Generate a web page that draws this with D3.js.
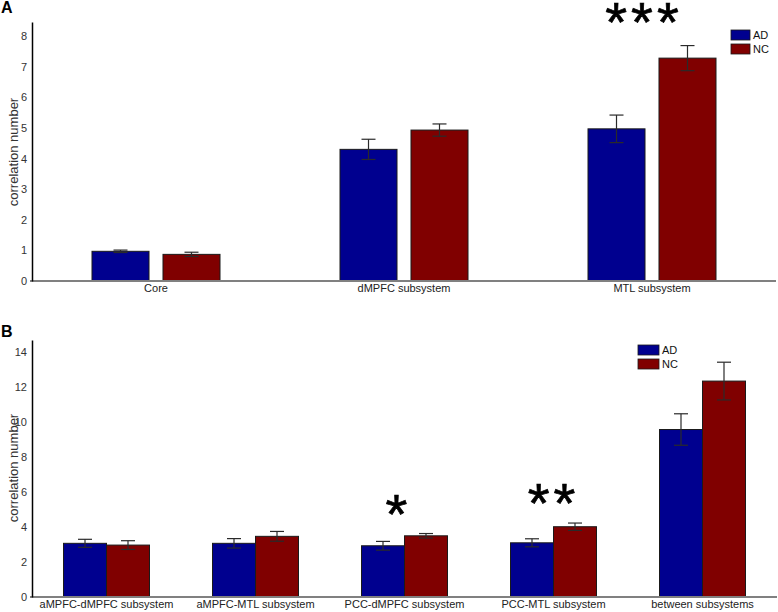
<!DOCTYPE html>
<html>
<head>
<meta charset="utf-8">
<script src="https://cdn.jsdelivr.net/npm/d3@7"></script>
<style>
  body { margin: 0; background: #fff; }
  text { font-family: Arial, "Liberation Sans", sans-serif; }
</style>
</head>
<body>
<svg id="chart"></svg>
<script>
const groups = ["AD", "NC"];

const catsA = ["Core", "dMPFC subsystem", "MTL subsystem"];
const adA = [0.97, 4.30, 4.97];
const ncA = [0.87, 4.93, 7.28];
const adErrA = [0.04, 0.33, 0.45];
const ncErrA = [0.07, 0.20, 0.41];
const ticksA = [0, 1, 2, 3, 4, 5, 6, 7, 8];
const starsA = [{ cat: "MTL subsystem", text: "***", at: 7.84 }];

const catsB = ["aMPFC-dMPFC subsystem", "aMPFC-MTL subsystem", "PCC-dMPFC subsystem", "PCC-MTL subsystem", "between subsystems"];
const adB = [3.07, 3.07, 2.93, 3.10, 9.58];
const ncB = [2.97, 3.47, 3.50, 4.02, 12.35];
const adErrB = [0.23, 0.27, 0.25, 0.23, 0.90];
const ncErrB = [0.25, 0.28, 0.13, 0.21, 1.08];
const ticksB = [0, 2, 4, 6, 8, 10, 12, 14];
const starsB = [
  { cat: "PCC-dMPFC subsystem", text: "*", at: 3.66 },
  { cat: "PCC-MTL subsystem", text: "**", at: 4.29 }
];

const colors = { AD: "#00008f", NC: "#800000" };

const width = 778;
const height = 612;

const svg = d3.select("#chart")
  .attr("width", width)
  .attr("height", height);

function panel(opt) {
  const g = svg.append("g");

  const x = d3.scaleBand()
    .domain(opt.cats)
    .range([32, opt.right])
    .padding(0);

  const inner = d3.scaleBand()
    .domain(groups)
    .range([-opt.half, opt.half])
    .paddingInner(opt.gap);

  const y = d3.scaleLinear()
    .domain([0, opt.max])
    .range([opt.base, opt.top]);

  const rows = [];
  opt.cats.forEach((c, i) => {
    rows.push({ cat: c, grp: "AD", v: opt.ad[i], e: opt.adErr[i] });
    rows.push({ cat: c, grp: "NC", v: opt.nc[i], e: opt.ncErr[i] });
  });

  g.selectAll("rect.bar")
    .data(rows)
    .enter()
    .append("rect")
    .attr("class", "bar")
    .attr("x", d => x(d.cat) + x.bandwidth() / 2 + inner(d.grp))
    .attr("y", d => y(d.v))
    .attr("width", inner.bandwidth())
    .attr("height", d => y(0) - y(d.v))
    .attr("fill", d => colors[d.grp])
    .attr("stroke", "#1a1a1a")
    .attr("stroke-width", 1);

  const cx = d => x(d.cat) + x.bandwidth() / 2 + inner(d.grp) + inner.bandwidth() / 2;
  const err = g.selectAll("g.err")
    .data(rows)
    .enter()
    .append("g")
    .attr("stroke", "#2a2a2a")
    .attr("stroke-width", 1.2);
  err.append("line")
    .attr("x1", cx).attr("x2", cx)
    .attr("y1", d => y(d.v + d.e)).attr("y2", d => y(d.v - d.e));
  err.append("line")
    .attr("x1", d => cx(d) - 7).attr("x2", d => cx(d) + 7)
    .attr("y1", d => y(d.v + d.e)).attr("y2", d => y(d.v + d.e));
  err.append("line")
    .attr("x1", d => cx(d) - 7).attr("x2", d => cx(d) + 7)
    .attr("y1", d => y(d.v - d.e)).attr("y2", d => y(d.v - d.e));

  // gray baseline
  g.append("line")
    .attr("x1", 30).attr("x2", opt.right)
    .attr("y1", y(0)).attr("y2", y(0))
    .attr("stroke", "#808080")
    .attr("stroke-width", 2);

  const xAxis = g.append("g")
    .attr("transform", `translate(0,${y(0)})`)
    .call(d3.axisBottom(x).tickSize(0).tickPadding(3));
  xAxis.select(".domain").remove();
  xAxis.selectAll("text")
    .attr("font-size", 11)
    .attr("fill", "#222")
    .attr("font-family", "Arial, 'Liberation Sans', sans-serif");

  const yAxis = g.append("g")
    .attr("transform", "translate(32,0)")
    .call(d3.axisLeft(y).tickValues(opt.ticks).tickSize(0).tickPadding(5).tickSizeOuter(0));
  yAxis.select(".domain")
    .attr("stroke", "#000")
    .attr("stroke-width", 1.5);
  yAxis.selectAll("text")
    .attr("font-size", 11)
    .attr("fill", "#333")
    .attr("font-family", "Arial, 'Liberation Sans', sans-serif");

  g.append("text")
    .attr("transform", `translate(18,${opt.labelY}) rotate(-90)`)
    .attr("text-anchor", "middle")
    .attr("font-size", 13)
    .attr("fill", "#333")
    .text("correlation number");

  g.append("text")
    .attr("x", 1)
    .attr("y", opt.letterY)
    .attr("font-size", 16)
    .attr("font-weight", "bold")
    .text(opt.letter);

  g.selectAll("text.star")
    .data(opt.stars)
    .enter()
    .append("text")
    .attr("class", "star")
    .attr("x", (d, i) => x(d.cat) + x.bandwidth() / 2 + opt.starDx[i] + 2)
    .attr("y", d => y(d.at))
    .attr("text-anchor", "middle")
    .attr("font-size", 56)
    .attr("letter-spacing", 4)
    .attr("stroke", "#000")
    .attr("stroke-width", 0.7)
    .text(d => d.text);

  const leg = g.selectAll("g.leg")
    .data(groups)
    .enter()
    .append("g")
    .attr("transform", (d, i) => `translate(${opt.legX},${opt.legY + i * 14})`);
  leg.append("rect")
    .attr("width", opt.legW).attr("height", 10)
    .attr("fill", d => colors[d])
    .attr("stroke", "#1a1a1a")
    .attr("stroke-width", 0.8);
  leg.append("text")
    .attr("x", opt.legW + 3)
    .attr("y", 9)
    .attr("font-size", 11)
    .attr("fill", "#111")
    .text(d => d);
}

panel({
  letter: "A", cats: catsA, ad: adA, nc: ncA, adErr: adErrA, ncErr: ncErrA,
  ticks: ticksA, stars: starsA, starDx: [-10], max: 8.46, base: 281, top: 22, right: 776,
  half: 64, gap: 0.197, labelY: 152, letterY: 13, legX: 731, legY: 30, legW: 19
});

panel({
  letter: "B", cats: catsB, ad: adB, nc: ncB, adErr: adErrB, ncErr: ncErrB,
  ticks: ticksB, stars: starsB, starDx: [-8, -2], max: 14.7, base: 597, top: 340, right: 777,
  half: 43, gap: 0, labelY: 468, letterY: 337, legX: 638, legY: 345, legW: 21
});
</script>
</body>
</html>
